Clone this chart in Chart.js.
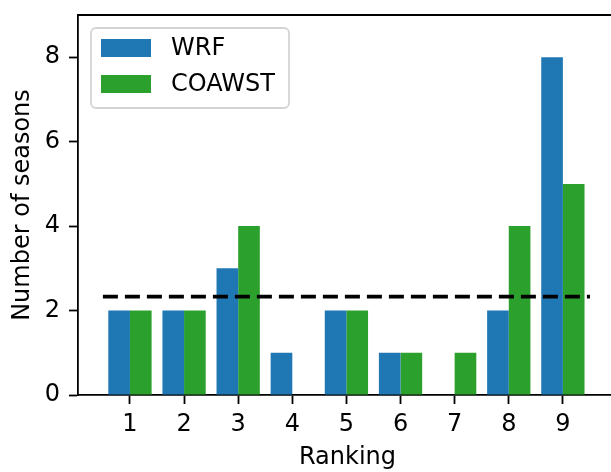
<!DOCTYPE html>
<html>
<head>
<meta charset="utf-8">
<script src="https://cdn.jsdelivr.net/npm/chart.js@4/dist/chart.umd.min.js"></script>
<style>
  html, body { margin: 0; padding: 0; background: #fff; overflow: hidden; }
  #wrap { width: 622px; height: 472px; }
</style>
</head>
<body>
<div id="wrap"><canvas id="c" width="622" height="472"></canvas></div>
<script>
// Ranking categories and the number of seasons in each, per model
const rankings = [1, 2, 3, 4, 5, 6, 7, 8, 9];
const wrfSeasons = [2, 2, 3, 1, 2, 1, 0, 2, 8];
const coawstSeasons = [2, 2, 4, 0, 2, 1, 1, 4, 5];
const seriesNames = ['WRF', 'COAWST'];
const yTickValues = [0, 2, 4, 6, 8];

// Horizontal reference level (dashed line) and its x extent
const referenceLevel = 2.33;
const referenceSpan = [0.5, 9.5];

const FONT = 'DejaVu Sans';
const FONT_SIZE = 24;
const BLUE = '#1f77b4';
const GREEN = '#2ca02c';

const toPoints = (vals) => rankings.map((r, i) => ({ x: r, y: vals[i] }));

// Spine along the top of the plot area plus the matplotlib-style legend box
const framePlugin = {
  id: 'frame',
  afterDraw(chart) {
    const { ctx, chartArea: a } = chart;
    ctx.save();
    ctx.strokeStyle = '#000';
    ctx.lineWidth = 1.8;
    ctx.beginPath();
    ctx.moveTo(a.left - 0.9, a.top);
    ctx.lineTo(a.right + 1, a.top);
    ctx.moveTo(a.right, a.top);
    ctx.lineTo(a.right, a.bottom);
    ctx.stroke();

    // legend
    const lx = 91, ly = 28, lw = 198, lh = 80, r = 5;
    ctx.beginPath();
    ctx.moveTo(lx + r, ly);
    ctx.arcTo(lx + lw, ly, lx + lw, ly + lh, r);
    ctx.arcTo(lx + lw, ly + lh, lx, ly + lh, r);
    ctx.arcTo(lx, ly + lh, lx, ly, r);
    ctx.arcTo(lx, ly, lx + lw, ly, r);
    ctx.closePath();
    ctx.fillStyle = 'rgba(255,255,255,0.8)';
    ctx.fill();
    ctx.strokeStyle = '#d4d4d4';
    ctx.lineWidth = 1.8;
    ctx.stroke();

    const bars = chart.data.datasets.filter(d => d.type === 'bar');
    ctx.font = FONT_SIZE + 'px "' + FONT + '"';
    ctx.textBaseline = 'middle';
    ctx.textAlign = 'left';
    bars.forEach((ds, i) => {
      const cy = 48 + i * 36;
      ctx.fillStyle = ds.backgroundColor;
      ctx.fillRect(101, cy - 9, 50, 18);
      ctx.fillStyle = '#000';
      ctx.fillText(ds.label, 171, cy + 1);
    });
    ctx.restore();
  }
};

new Chart(document.getElementById('c'), {
  data: {
    datasets: [
      {
        type: 'bar',
        label: seriesNames[0],
        data: toPoints(wrfSeasons),
        backgroundColor: BLUE,
        borderWidth: 0,
        categoryPercentage: 0.8,
        barPercentage: 1.0,
        order: 2
      },
      {
        type: 'bar',
        label: seriesNames[1],
        data: toPoints(coawstSeasons),
        backgroundColor: GREEN,
        borderWidth: 0,
        categoryPercentage: 0.8,
        barPercentage: 1.0,
        order: 2
      },
      {
        type: 'line',
        label: 'reference',
        data: referenceSpan.map(x => ({ x, y: referenceLevel })),
        borderColor: '#000',
        borderWidth: 3.6,
        borderDash: [15, 7],
        borderCapStyle: 'butt',
        pointRadius: 0,
        fill: false,
        order: 1
      }
    ]
  },
  options: {
    responsive: false,
    animation: false,
    layout: { padding: { top: 15, right: 5, left: 0, bottom: 0 } },
    plugins: {
      legend: { display: false },
      tooltip: { enabled: false }
    },
    scales: {
      x: {
        type: 'linear',
        offset: false,
        min: 0.04,
        max: 10,
        afterFit(s) { s.height = 77; s.paddingLeft = 0; s.paddingRight = 0; },
        afterBuildTicks(s) { s.ticks = rankings.map(v => ({ value: v })); },
        grid: {
          offset: false,
          drawOnChartArea: false,
          drawTicks: true,
          tickLength: 9,
          tickWidth: 1.8,
          tickColor: '#000'
        },
        border: { display: true, color: '#000', width: 1.8 },
        ticks: {
          color: '#000',
          font: { family: FONT, size: FONT_SIZE },
          padding: 6,
          maxRotation: 0,
          autoSkip: false
        },
        title: {
          display: true,
          text: 'Ranking',
          color: '#000',
          font: { family: FONT, size: FONT_SIZE },
          padding: { top: 0, bottom: 0 }
        }
      },
      y: {
        type: 'linear',
        min: 0,
        max: 9,
        afterFit(s) { s.width = 78; s.paddingTop = 0; s.paddingBottom = 0; },
        afterBuildTicks(s) { s.ticks = yTickValues.map(v => ({ value: v })); },
        grid: {
          drawOnChartArea: false,
          drawTicks: true,
          tickLength: 9,
          tickWidth: 1.8,
          tickColor: '#000'
        },
        border: { display: true, color: '#000', width: 1.8 },
        ticks: {
          color: '#000',
          font: { family: FONT, size: FONT_SIZE },
          padding: 9
        },
        title: {
          display: true,
          text: 'Number of seasons',
          color: '#000',
          font: { family: FONT, size: FONT_SIZE },
          padding: { top: 8, bottom: 0 }
        }
      }
    }
  },
  plugins: [framePlugin]
});
</script>
</body>
</html>
